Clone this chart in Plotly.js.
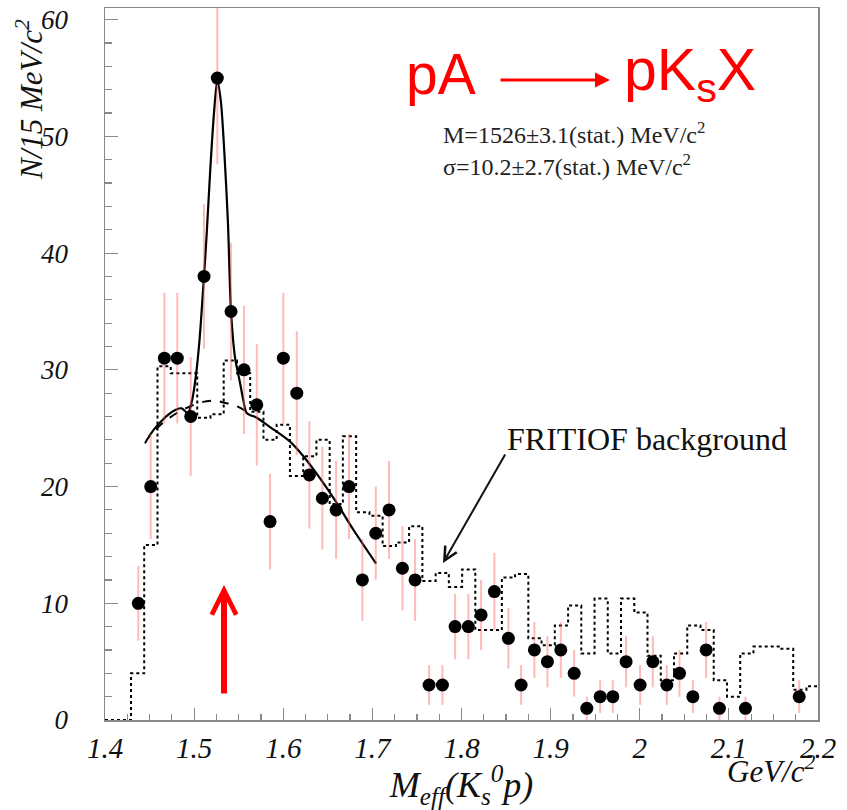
<!DOCTYPE html>
<html>
<head>
<meta charset="utf-8">
<script src="https://cdn.plot.ly/plotly-3.0.1.min.js"></script>
<style>html,body{margin:0;padding:0;background:#fff;}#chart{width:847px;height:810px;}</style>
</head>
<body>
<div id="chart"></div>
<script>
const dataX = [1.4374, 1.4513, 1.4666, 1.4811, 1.4962, 1.5111, 1.5260, 1.5414, 1.5560, 1.5703,
  1.5852, 1.6001, 1.6152, 1.6293, 1.6439, 1.6593, 1.6738, 1.6888, 1.7038, 1.7187,
  1.7337, 1.7479, 1.7636, 1.7786, 1.7928, 1.8077, 1.8220, 1.8369, 1.8526, 1.8669,
  1.8818, 1.8964, 1.9114, 1.9264, 1.9406, 1.9556, 1.9698, 1.9847, 2.0004, 2.0147,
  2.0304, 2.0446, 2.0596, 2.0745, 2.0894, 2.1186, 2.1789];
const dataY = [10, 20, 31, 31, 26, 38, 55, 35, 30, 27,
  17, 31, 28, 21, 19, 18, 20, 12, 16, 18,
  13, 12, 3, 3, 8, 8, 9, 11, 7, 3,
  6, 5, 6, 4, 1, 2, 2, 5, 3, 5,
  3, 4, 2, 6, 1, 1, 2];
const dataErr = [3.2, 4.5, 5.6, 5.6, 5.1, 6.2, 7.4, 5.9, 5.5, 5.2,
  4.1, 5.6, 5.3, 4.6, 4.4, 4.2, 4.5, 3.5, 4.0, 4.2,
  3.6, 3.5, 1.7, 1.7, 2.8, 2.8, 3.0, 3.3, 2.6, 1.7,
  2.4, 2.2, 2.4, 2.0, 1.0, 1.4, 1.4, 2.2, 1.7, 2.2,
  1.7, 2.0, 1.4, 2.4, 1.0, 1.0, 1.4];

// FRITIOF background histogram: bin edges and contents
const histEdges = [1.4000, 1.4292, 1.4440, 1.4589, 1.4738, 1.4886, 1.5035, 1.5183, 1.5332, 1.5481,
  1.5629, 1.5778, 1.5926, 1.6075, 1.6224, 1.6372, 1.6521, 1.6669, 1.6818, 1.6967,
  1.7115, 1.7264, 1.7412, 1.7561, 1.7710, 1.7858, 1.8007, 1.8155, 1.8304, 1.8453,
  1.8601, 1.8750, 1.8898, 1.9047, 1.9196, 1.9344, 1.9493, 1.9641, 1.9790, 1.9939,
  2.0087, 2.0236, 2.0384, 2.0533, 2.0681, 2.0830, 2.0979, 2.1127, 2.1276, 2.1424,
  2.1573, 2.1722, 2.1870, 2.2000];
const histVals = [0, 4, 15, 30.3, 29.7, 29.7, 25.9, 26.2, 30.8, 29.7,
  26.4, 24, 25.3, 20.9, 22.6, 24, 18.5, 24.3, 17.8, 17.5,
  14.9, 15.2, 16.6, 11.9, 12.6, 11.4, 12.9, 7.7, 7.7, 12.2,
  12.5, 7.0, 6.4, 8.1, 9.8, 5.7, 10.4, 5.7, 10.4, 9.2,
  5.5, 3.4, 5.7, 8.1, 7.7, 3.4, 2.0, 5.7, 6.3, 6.3,
  6.1, 2.6, 2.9];

// Fit curve (signal + background)
const fitX = [1.4494, 1.4550, 1.4620, 1.4700, 1.4800, 1.4860, 1.4930, 1.4980, 1.5020, 1.5060,
  1.5100, 1.5140, 1.5180, 1.5220, 1.5260, 1.5300, 1.5340, 1.5380, 1.5414, 1.5460,
  1.5515, 1.5552, 1.5590, 1.5703, 1.5852, 1.6076, 1.6226, 1.6413, 1.6600, 1.6787, 1.7042];
const fitY = [24.3, 24.9, 25.5, 26.1, 26.6, 26.7, 26.3, 27.5, 29.5, 32.5,
  36.8, 41.5, 47.0, 51.7, 54.8, 53.0, 48.5, 42.5, 35.0, 31.0,
  28.9, 27.4, 26.3, 25.9, 25.1, 23.85, 22.6, 20.7, 18.6, 16.3, 13.4];

// Background-only curve (dashed)
const bgX = [1.4449, 1.4497, 1.4673, 1.4853, 1.5029, 1.5141, 1.5246, 1.5328, 1.5440, 1.5552, 1.5608];
const bgY = [23.7, 24.3, 25.6, 26.5, 27.1, 27.3, 27.35, 27.2, 27.0, 26.6, 26.3];

// build step outline for histogram
const hx = [], hy = [];
for (let i = 0; i < histVals.length; i++) {
  hx.push(histEdges[i]); hy.push(histVals[i]);
}
hx.push(histEdges[histEdges.length - 1]); hy.push(histVals[histVals.length - 1]);

const L = 105, R = 818, T = 8, B = 720;
const px = v => (v - L) / (R - L);
const py = v => (B - v) / (B - T);

const serif = 'Liberation Serif, Times New Roman, serif';
const sans = 'Liberation Sans, Arial, sans-serif';

const traces = [
  {x: hx, y: hy, type: 'scatter', mode: 'lines', line: {shape: 'hv', dash: 'dot', color: '#000', width: 2}, hoverinfo: 'skip'},
  {x: bgX, y: bgY, type: 'scatter', mode: 'lines', line: {shape: 'spline', dash: 'dash', color: '#000', width: 2}},
  {x: fitX, y: fitY, type: 'scatter', mode: 'lines', line: {shape: 'spline', smoothing: 0.8, color: '#000', width: 2.2}},
  {x: dataX, y: dataY, type: 'scatter', mode: 'markers',
   marker: {color: '#000', size: 13},
   error_y: {type: 'data', array: dataErr, visible: true, color: 'rgba(255,90,90,0.42)', thickness: 2, width: 0}}
];

const layout = {
  width: 847, height: 810,
  margin: {l: L, r: 847 - R, t: T, b: 810 - B},
  paper_bgcolor: '#fff', plot_bgcolor: '#fff',
  showlegend: false,
  xaxis: {
    range: [1.4, 2.2], dtick: 0.1, tick0: 1.4,
    ticks: 'inside', ticklen: 12, tickwidth: 1.2, tickcolor: '#888',
    minor: {dtick: 0.025, ticks: 'inside', ticklen: 6, tickcolor: '#888', tickwidth: 1.2},
    showline: true, linecolor: '#888', linewidth: 1.5, mirror: true,
    showgrid: false, zeroline: false,
    tickfont: {family: serif, size: 29, style: 'italic', color: '#111'},
    ticklabelstandoff: 2,
    title: {text: '<i>M<sub>eff</sub>(K<sub>s</sub><sup>0</sup>p)</i>', font: {family: serif, size: 36, color: '#111'}, standoff: 8}
  },
  yaxis: {
    range: [0, 61], dtick: 10, tick0: 0,
    ticks: 'inside', ticklen: 13, tickwidth: 1.2, tickcolor: '#888',
    minor: {dtick: 2, ticks: 'inside', ticklen: 7, tickcolor: '#888', tickwidth: 1.2},
    showline: true, linecolor: '#888', linewidth: 1.5, mirror: true,
    showgrid: false, zeroline: false,
    tickfont: {family: serif, size: 27, style: 'italic', color: '#111'},
    ticklabelstandoff: 30
  },
  annotations: [
    {xref: 'paper', yref: 'paper', x: px(30), y: py(100), text: '<i>N/15 MeV/c<sup>2</sup></i>', textangle: -90,
     showarrow: false, font: {family: serif, size: 31, color: '#111'}, xanchor: 'center', yanchor: 'middle'},
    {xref: 'paper', yref: 'paper', x: px(771), y: py(769), text: '<i>GeV/c<sup>2</sup></i>',
     showarrow: false, font: {family: serif, size: 31, color: '#111'}, xanchor: 'center', yanchor: 'middle'},
    {xref: 'paper', yref: 'paper', x: px(404), y: py(74), text: 'pA', showarrow: false,
     font: {family: sans, size: 57, color: '#ff0000'}, xanchor: 'left', yanchor: 'middle'},
    {xref: 'paper', yref: 'paper', x: px(622), y: py(74), text: 'pK<sub>s</sub>X', showarrow: false,
     font: {family: sans, size: 59, color: '#ff0000'}, xanchor: 'left', yanchor: 'middle'},
    {xref: 'paper', yref: 'paper', x: px(610), y: py(80), ax: -111, ay: 0, text: '', showarrow: true,
     arrowhead: 2, arrowsize: 1, arrowwidth: 3, arrowcolor: '#ff0000'},
    {xref: 'paper', yref: 'paper', x: px(441), y: py(133), text: 'M=1526±3.1(stat.) MeV/c<sup>2</sup>', showarrow: false,
     font: {family: serif, size: 24, color: '#222'}, xanchor: 'left', yanchor: 'middle'},
    {xref: 'paper', yref: 'paper', x: px(441), y: py(165), text: 'σ=10.2±2.7(stat.) MeV/c<sup>2</sup>', showarrow: false,
     font: {family: serif, size: 24, color: '#222'}, xanchor: 'left', yanchor: 'middle'},
    {xref: 'paper', yref: 'paper', x: px(505), y: py(439), text: 'FRITIOF background', showarrow: false,
     font: {family: serif, size: 32, color: '#111'}, xanchor: 'left', yanchor: 'middle'},
    {xref: 'paper', yref: 'paper', x: px(443), y: py(563), ax: 63, ay: -110, text: '', showarrow: true,
     arrowhead: 5, arrowsize: 1.3, arrowwidth: 2, arrowcolor: '#111'},
    {xref: 'paper', yref: 'paper', x: px(224), y: py(585), ax: 0, ay: 110, text: '', showarrow: true,
     arrowhead: 5, arrowsize: 0.8, arrowwidth: 6, arrowcolor: '#ff0000'}
  ]
};

Plotly.newPlot('chart', traces, layout, {displayModeBar: false, staticPlot: true});
</script>
</body>
</html>
